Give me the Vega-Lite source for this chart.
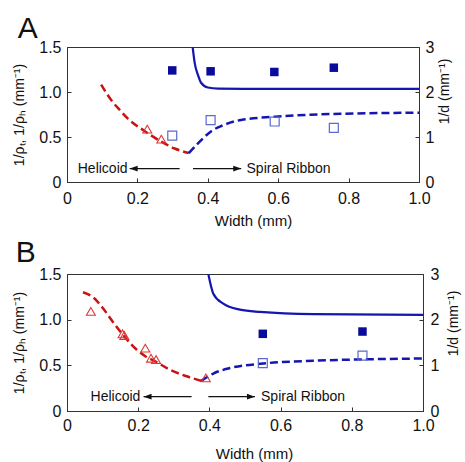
{
  "$schema": "https://vega.github.io/schema/vega-lite/v6.json",
  "padding": {"left": 12, "top": 13, "right": 5, "bottom": 0},
  "spacing": 8,
  "config": {
    "font": "Liberation Sans",
    "view": {"stroke": "#333", "strokeWidth": 1},
    "axis": {
      "grid": false,
      "labelFlush": false,
      "labelOverlap": false,
      "domainColor": "#333",
      "tickColor": "#333",
      "tickSize": -4,
      "labelFont": "Liberation Sans",
      "titleFont": "Liberation Sans",
      "labelFontSize": 16,
      "titleFontSize": 14,
      "titleFontWeight": "normal",
      "labelColor": "#111",
      "titleColor": "#111"
    }
  },
  "datasets": {
    "A": [
      {"s": "helicoid_fit", "w": 0.097, "v": 1.083},
      {"s": "helicoid_fit", "w": 0.126, "v": 0.908},
      {"s": "helicoid_fit", "w": 0.15, "v": 0.8},
      {"s": "helicoid_fit", "w": 0.173, "v": 0.704},
      {"s": "helicoid_fit", "w": 0.22, "v": 0.567},
      {"s": "helicoid_fit", "w": 0.268, "v": 0.448},
      {"s": "helicoid_fit", "w": 0.306, "v": 0.372},
      {"s": "helicoid_fit", "w": 0.346, "v": 0.322},
      {"s": "ribbon_fit", "w": 0.346, "v": 0.322},
      {"s": "ribbon_fit", "w": 0.365, "v": 0.4},
      {"s": "ribbon_fit", "w": 0.385, "v": 0.48},
      {"s": "ribbon_fit", "w": 0.41, "v": 0.565},
      {"s": "ribbon_fit", "w": 0.44, "v": 0.625},
      {"s": "ribbon_fit", "w": 0.495, "v": 0.69},
      {"s": "ribbon_fit", "w": 0.59, "v": 0.725},
      {"s": "ribbon_fit", "w": 0.75, "v": 0.755},
      {"s": "ribbon_fit", "w": 1.0, "v": 0.77},
      {"s": "d_fit", "w": 0.357, "v": 3.0},
      {"s": "d_fit", "w": 0.3625, "v": 2.66},
      {"s": "d_fit", "w": 0.372, "v": 2.38},
      {"s": "d_fit", "w": 0.3815, "v": 2.2},
      {"s": "d_fit", "w": 0.4, "v": 2.1},
      {"s": "d_fit", "w": 0.43, "v": 2.075},
      {"s": "d_fit", "w": 0.5, "v": 2.07},
      {"s": "d_fit", "w": 1.0, "v": 2.07},
      {"s": "d", "w": 0.299, "v": 2.48},
      {"s": "d", "w": 0.408, "v": 2.46},
      {"s": "d", "w": 0.589, "v": 2.445},
      {"s": "d", "w": 0.758, "v": 2.54},
      {"s": "ribbon", "w": 0.299, "v": 0.515},
      {"s": "ribbon", "w": 0.408, "v": 0.688},
      {"s": "ribbon", "w": 0.59, "v": 0.672},
      {"s": "ribbon", "w": 0.758, "v": 0.602},
      {"s": "helicoid", "w": 0.228, "v": 0.587},
      {"s": "helicoid", "w": 0.268, "v": 0.476},
      {"s": "arrow_left", "w": 0.32, "w2": 0.178, "v": 0.149},
      {"s": "arrow_right", "w": 0.358, "w2": 0.495, "v": 0.149},
      {"s": "label_left", "label": "Helicoid", "w": 0.172, "v": 0.149},
      {"s": "label_right", "label": "Spiral Ribbon", "w": 0.51, "v": 0.149}
    ],
    "B": [
      {"s": "helicoid_fit", "w": 0.045, "v": 1.3},
      {"s": "helicoid_fit", "w": 0.075, "v": 1.24},
      {"s": "helicoid_fit", "w": 0.1, "v": 1.13},
      {"s": "helicoid_fit", "w": 0.13, "v": 0.97},
      {"s": "helicoid_fit", "w": 0.158, "v": 0.83},
      {"s": "helicoid_fit", "w": 0.196, "v": 0.67},
      {"s": "helicoid_fit", "w": 0.22, "v": 0.6},
      {"s": "helicoid_fit", "w": 0.245, "v": 0.55},
      {"s": "helicoid_fit", "w": 0.29, "v": 0.45},
      {"s": "helicoid_fit", "w": 0.336, "v": 0.38},
      {"s": "helicoid_fit", "w": 0.377, "v": 0.33},
      {"s": "ribbon_fit", "w": 0.377, "v": 0.33},
      {"s": "ribbon_fit", "w": 0.411, "v": 0.41},
      {"s": "ribbon_fit", "w": 0.458, "v": 0.47},
      {"s": "ribbon_fit", "w": 0.551, "v": 0.52},
      {"s": "ribbon_fit", "w": 0.692, "v": 0.55},
      {"s": "ribbon_fit", "w": 0.832, "v": 0.565},
      {"s": "ribbon_fit", "w": 1.0, "v": 0.575},
      {"s": "d_fit", "w": 0.397, "v": 3.0},
      {"s": "d_fit", "w": 0.411, "v": 2.57},
      {"s": "d_fit", "w": 0.439, "v": 2.35},
      {"s": "d_fit", "w": 0.486, "v": 2.22},
      {"s": "d_fit", "w": 0.542, "v": 2.17},
      {"s": "d_fit", "w": 0.692, "v": 2.12},
      {"s": "d_fit", "w": 1.0, "v": 2.105},
      {"s": "d", "w": 0.55, "v": 1.69},
      {"s": "d", "w": 0.83, "v": 1.74},
      {"s": "ribbon", "w": 0.55, "v": 0.524},
      {"s": "ribbon", "w": 0.83, "v": 0.607},
      {"s": "helicoid", "w": 0.067, "v": 1.09},
      {"s": "helicoid", "w": 0.156, "v": 0.845},
      {"s": "helicoid", "w": 0.161, "v": 0.827},
      {"s": "helicoid", "w": 0.22, "v": 0.688},
      {"s": "helicoid", "w": 0.236, "v": 0.578},
      {"s": "helicoid", "w": 0.25, "v": 0.563},
      {"s": "helicoid", "w": 0.39, "v": 0.362},
      {"s": "arrow_left", "w": 0.35, "w2": 0.215, "v": 0.157},
      {"s": "arrow_right", "w": 0.397, "w2": 0.528, "v": 0.157},
      {"s": "label_left", "label": "Helicoid", "w": 0.206, "v": 0.157},
      {"s": "label_right", "label": "Spiral Ribbon", "w": 0.545, "v": 0.157}
    ]
  },
  "vconcat": [
    {
      "data": {"name": "A"},
      "width": 352,
      "height": 135,
      "title": {"text": "A", "anchor": "start", "frame": "bounds", "fontSize": 30, "fontWeight": "normal", "font": "Liberation Sans", "offset": -5, "dx": 5, "color": "#111"},
      "encoding": {
        "x": {"field": "w", "type": "quantitative", "scale": {"domain": [0, 1], "nice": false},
          "axis": {"title": "Width (mm)", "values": [0, 0.2, 0.4, 0.6, 0.8, 1.0], "labelExpr": "datum.value==0?'0':format(datum.value,'.1f')", "labelPadding": 12, "titlePadding": 7, "titleFontSize": 15, "titleX": 186}}
      },
      "layer": [
        {
          "encoding": {
            "y": {"field": "v", "type": "quantitative", "scale": {"domain": [0, 1.5], "nice": false},
              "axis": {"title": "1/ρₜ, 1/ρₕ (mm⁻¹)", "values": [0, 0.5, 1, 1.5], "labelExpr": "datum.value==0?'0':format(datum.value,'.1f')", "labelPadding": 10, "titlePadding": 12}}
          },
          "layer": [
            {"transform": [{"filter": "datum.s=='helicoid_fit'"}], "mark": {"type": "line", "color": "#cc1111", "strokeWidth": 2.5, "strokeDash": [8, 4], "interpolate": "monotone"}},
            {"transform": [{"filter": "datum.s=='ribbon_fit'"}], "mark": {"type": "line", "color": "#1515b0", "strokeWidth": 2.5, "strokeDash": [8, 4], "interpolate": "monotone"}},
            {"transform": [{"filter": "datum.s=='ribbon'"}], "mark": {"type": "point", "shape": "square", "filled": false, "color": "#5a6ad0", "strokeWidth": 1.2, "size": 80, "opacity": 1}},
            {"transform": [{"filter": "datum.s=='helicoid'"}], "mark": {"type": "point", "shape": "triangle-up", "filled": false, "color": "#e03535", "strokeWidth": 1.1, "size": 80, "opacity": 1}},
            {"transform": [{"filter": "datum.s=='arrow_left' || datum.s=='arrow_right'"}], "mark": {"type": "rule", "color": "#111", "strokeWidth": 1.3}, "encoding": {"x2": {"field": "w2"}}},
            {"transform": [{"filter": "datum.s=='arrow_left'"}], "mark": {"type": "point", "shape": "M0,0L2,-0.7L2,0.7Z", "filled": true, "color": "#111", "size": 64, "opacity": 1}, "encoding": {"x": {"field": "w2", "type": "quantitative"}}},
            {"transform": [{"filter": "datum.s=='arrow_right'"}], "mark": {"type": "point", "shape": "M0,0L-2,-0.7L-2,0.7Z", "filled": true, "color": "#111", "size": 64, "opacity": 1}, "encoding": {"x": {"field": "w2", "type": "quantitative"}}},
            {"transform": [{"filter": "datum.s=='label_left'"}], "mark": {"type": "text", "align": "right", "baseline": "middle", "fontSize": 14, "color": "#111"}, "encoding": {"text": {"field": "label"}}},
            {"transform": [{"filter": "datum.s=='label_right'"}], "mark": {"type": "text", "align": "left", "baseline": "middle", "fontSize": 14, "color": "#111"}, "encoding": {"text": {"field": "label"}}}
          ]
        },
        {
          "encoding": {
            "y": {"field": "v", "type": "quantitative", "scale": {"domain": [0, 3], "nice": false},
              "axis": {"orient": "right", "title": "1/d (mm⁻¹)", "titleAngle": 270, "titleBaseline": "top", "titleY": 44, "values": [0, 1, 2, 3], "labelPadding": 10, "titlePadding": 4}}
          },
          "layer": [
            {"transform": [{"filter": "datum.s=='d_fit'"}], "mark": {"type": "line", "color": "#1515b0", "strokeWidth": 2.2, "interpolate": "monotone", "clip": true}},
            {"transform": [{"filter": "datum.s=='d'"}], "mark": {"type": "point", "shape": "square", "filled": true, "color": "#0a0a9c", "size": 72, "opacity": 1}}
          ]
        }
      ],
      "resolve": {"scale": {"y": "independent"}}
    },
    {
      "data": {"name": "B"},
      "width": 356,
      "height": 137,
      "title": {"text": "B", "anchor": "start", "frame": "bounds", "fontSize": 30, "fontWeight": "normal", "font": "Liberation Sans", "offset": -2, "dx": 3, "color": "#111"},
      "encoding": {
        "x": {"field": "w", "type": "quantitative", "scale": {"domain": [0, 1], "nice": false},
          "axis": {"title": "Width (mm)", "values": [0, 0.2, 0.4, 0.6, 0.8, 1.0], "labelExpr": "datum.value==0?'0':format(datum.value,'.1f')", "labelPadding": 10, "titlePadding": 13, "titleFontSize": 15, "titleX": 187}}
      },
      "layer": [
        {
          "encoding": {
            "y": {"field": "v", "type": "quantitative", "scale": {"domain": [0, 1.5], "nice": false},
              "axis": {"title": "1/ρₜ, 1/ρₕ (mm⁻¹)", "values": [0, 0.5, 1, 1.5], "labelExpr": "datum.value==0?'0':format(datum.value,'.1f')", "labelPadding": 10, "titlePadding": 12}}
          },
          "layer": [
            {"transform": [{"filter": "datum.s=='helicoid_fit'"}], "mark": {"type": "line", "color": "#cc1111", "strokeWidth": 2.5, "strokeDash": [8, 4], "interpolate": "monotone"}},
            {"transform": [{"filter": "datum.s=='ribbon_fit'"}], "mark": {"type": "line", "color": "#1515b0", "strokeWidth": 2.5, "strokeDash": [8, 4], "interpolate": "monotone"}},
            {"transform": [{"filter": "datum.s=='ribbon'"}], "mark": {"type": "point", "shape": "square", "filled": false, "color": "#5a6ad0", "strokeWidth": 1.2, "size": 80, "opacity": 1}},
            {"transform": [{"filter": "datum.s=='helicoid'"}], "mark": {"type": "point", "shape": "triangle-up", "filled": false, "color": "#e03535", "strokeWidth": 1.1, "size": 80, "opacity": 1}},
            {"transform": [{"filter": "datum.s=='arrow_left' || datum.s=='arrow_right'"}], "mark": {"type": "rule", "color": "#111", "strokeWidth": 1.3}, "encoding": {"x2": {"field": "w2"}}},
            {"transform": [{"filter": "datum.s=='arrow_left'"}], "mark": {"type": "point", "shape": "M0,0L2,-0.7L2,0.7Z", "filled": true, "color": "#111", "size": 64, "opacity": 1}, "encoding": {"x": {"field": "w2", "type": "quantitative"}}},
            {"transform": [{"filter": "datum.s=='arrow_right'"}], "mark": {"type": "point", "shape": "M0,0L-2,-0.7L-2,0.7Z", "filled": true, "color": "#111", "size": 64, "opacity": 1}, "encoding": {"x": {"field": "w2", "type": "quantitative"}}},
            {"transform": [{"filter": "datum.s=='label_left'"}], "mark": {"type": "text", "align": "right", "baseline": "middle", "fontSize": 14, "color": "#111"}, "encoding": {"text": {"field": "label"}}},
            {"transform": [{"filter": "datum.s=='label_right'"}], "mark": {"type": "text", "align": "left", "baseline": "middle", "fontSize": 14, "color": "#111"}, "encoding": {"text": {"field": "label"}}}
          ]
        },
        {
          "encoding": {
            "y": {"field": "v", "type": "quantitative", "scale": {"domain": [0, 3], "nice": false},
              "axis": {"orient": "right", "title": "1/d (mm⁻¹)", "titleAngle": 270, "titleBaseline": "top", "titleY": 49, "values": [0, 1, 2, 3], "labelPadding": 11, "titlePadding": 8}}
          },
          "layer": [
            {"transform": [{"filter": "datum.s=='d_fit'"}], "mark": {"type": "line", "color": "#1515b0", "strokeWidth": 2.2, "interpolate": "monotone", "clip": true}},
            {"transform": [{"filter": "datum.s=='d'"}], "mark": {"type": "point", "shape": "square", "filled": true, "color": "#0a0a9c", "size": 72, "opacity": 1}}
          ]
        }
      ],
      "resolve": {"scale": {"y": "independent"}}
    }
  ]
}
